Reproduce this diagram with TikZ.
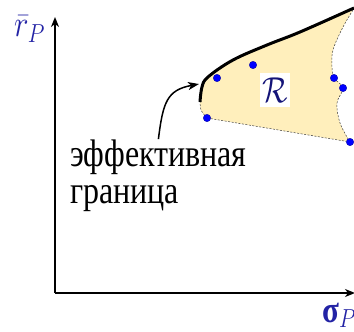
\RequirePackage{fix-cm}
\documentclass[tikz,border=0pt]{standalone}
\usepackage{graphicx}
\usepackage{fontspec}
\setmainfont{Liberation Serif}
\usetikzlibrary{arrows.meta}
\definecolor{lblue}{RGB}{35,35,165}
\definecolor{rnavy}{RGB}{20,20,120}
\definecolor{regfill}{RGB}{255,239,188}
\newcommand{\vstr}[1]{\scalebox{1}[1.2]{#1}}
\begin{document}
\begin{tikzpicture}[x=1pt,y=-1pt,
  axis/.style={line width=1.5pt,-{Stealth[length=10pt,width=8pt,inset=3pt]}},
  dot/.style={circle,fill=blue,draw=blue!60!black,line width=0.3pt,inner sep=0pt,minimum size=7.5pt},
  border/.style={line width=0.5pt,draw=black!75,dash pattern=on 2pt off 1.5pt},
  eff/.style={line width=3pt},
  pointer/.style={line width=1.5pt,-{Stealth[length=11pt,width=8pt,inset=3pt]}},
  lbl/.style={font=\fontsize{32}{36}\selectfont,inner sep=0pt,anchor=base west},
  axlbl/.style={text=lblue,font=\fontsize{31}{36}\selectfont,inner sep=0pt,anchor=base west}]
\useasboundingbox (0,0) rectangle (354,332);
% region fill
\fill[regfill] plot[smooth,tension=0.6] coordinates {(200,100) (202,87) (208,77) (233,60) (267,45) (300,32) (353,10)}
  -- plot[smooth,tension=0.6] coordinates {(353,10) (343,27) (333,50) (332,67) (334,78) (343,88) (337,103) (340,123) (350,142)}
  -- (207,118)
  -- plot[smooth] coordinates {(207,118) (201,110) (200,100)} -- cycle;
% dashed borders
\draw[border] plot[smooth,tension=0.6] coordinates {(353,10) (343,27) (333,50) (332,67) (334,78) (343,88) (337,103) (340,123) (350,142)};
\draw[border] plot[smooth] coordinates {(207,118) (201,110) (200,100)};
% dots
\node[dot] (d1) at (217,78) {};
\node[dot] (d2) at (253,65) {};
\node[dot] (d3) at (207,118) {};
\node[dot] (d4) at (334,78) {};
\node[dot] (d5) at (343,88) {};
\node[dot] (d6) at (350,142) {};
\draw[border] (d3) -- (d6);
% efficient frontier
\draw[eff] plot[smooth,tension=0.6] coordinates {(200,102) (202,87) (208,77) (233,60) (267,45) (300,32) (354,8)};
\coordinate (ef) at (199,84);
% R label
\node[fill=white,text=rnavy,font=\fontsize{30}{36}\selectfont,inner sep=0pt,minimum width=30pt,minimum height=34pt] (R) at (275,90) {\vstr{$\mathcal{R}$}};
% axes
\coordinate (O) at (55,293);
\coordinate (Y) at (55,17);
\coordinate (X) at (355,293);
\draw[axis] (O) -- (Y);
\draw[axis] (O) -- (X);
\node[axlbl] (ylbl) at (14,37) {\vstr{$\bar r_P$}};
\node[axlbl] (xlbl) at (322,322) {\vstr{\textbf{σ}$_P$}};
% text
\node[lbl] (t1) at (70,166) {\vstr{эффективная}};
\node[lbl] (t2) at (70,203) {\vstr{граница}};
\draw[pointer] (t1.north) .. controls (163,102) and (167,90) .. (ef);
\end{tikzpicture}
\end{document}
